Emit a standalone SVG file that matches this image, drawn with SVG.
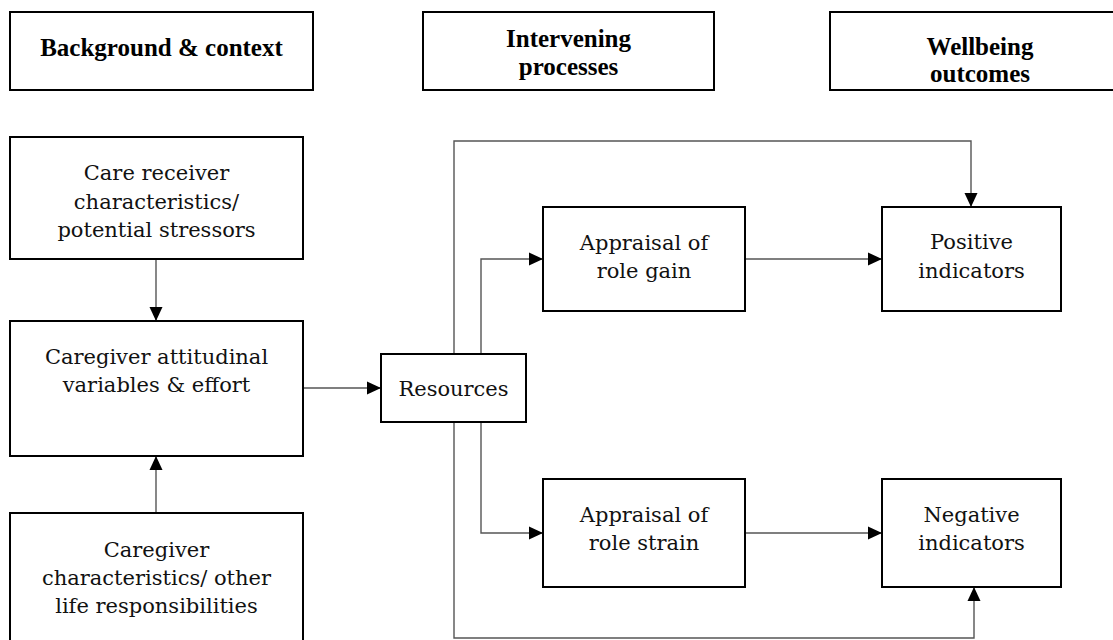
<svg xmlns="http://www.w3.org/2000/svg" width="1113" height="640" viewBox="0 0 1113 640">
<style>
.box{fill:#fff;stroke:#000;stroke-width:2}
.t{font-family:"DejaVu Serif","Liberation Serif",serif;font-size:21px;fill:#111;text-anchor:middle}
.h{font-family:"Liberation Serif","Times New Roman",serif;font-weight:bold;font-size:25px;fill:#000;text-anchor:middle}
.c{fill:none;stroke:#555;stroke-width:1.4}
</style>
<defs>
<marker id="ah" markerUnits="userSpaceOnUse" markerWidth="14" markerHeight="14" viewBox="0 0 14 14" refX="14" refY="7" orient="auto">
<path d="M0,0.5 L14,7 L0,13.5 Z" fill="#000"/>
</marker>
</defs>
<rect width="1113" height="640" fill="#fff"/>
<g id="connectors">
<path class="c" d="M156,259 V321" marker-end="url(#ah)"/>
<path class="c" d="M156,513 V456" marker-end="url(#ah)"/>
<path class="c" d="M303,388 H381" marker-end="url(#ah)"/>
<path class="c" d="M454,354 V141 H971 V207" marker-end="url(#ah)"/>
<path class="c" d="M481,354 V259 H543" marker-end="url(#ah)"/>
<path class="c" d="M745,259 H882" marker-end="url(#ah)"/>
<path class="c" d="M481,422 V533 H543" marker-end="url(#ah)"/>
<path class="c" d="M745,533 H882" marker-end="url(#ah)"/>
<path class="c" d="M454,422 V638 H974 V587" marker-end="url(#ah)"/>
</g>
<g id="hdr-background">
<rect class="box" x="10" y="12" width="303" height="78"/>
<text class="h" x="161.5" y="56">Background &amp; context</text>
</g>
<g id="hdr-intervening">
<rect class="box" x="423" y="12" width="291" height="78"/>
<text class="h" x="568.5" y="47">Intervening</text>
<text class="h" x="568.5" y="75">processes</text>
</g>
<g id="hdr-wellbeing">
<rect class="box" x="830" y="12" width="300" height="78"/>
<text class="h" x="980" y="55">Wellbeing</text>
<text class="h" x="980" y="82">outcomes</text>
</g>
<g id="care-receiver">
<rect class="box" x="10" y="137" width="293" height="122"/>
<text class="t" x="156.5" y="180">Care receiver</text>
<text class="t" x="156.5" y="208.5">characteristics/</text>
<text class="t" x="156.5" y="237">potential stressors</text>
</g>
<g id="caregiver-attitudinal">
<rect class="box" x="10" y="321" width="293" height="135"/>
<text class="t" x="156.5" y="364">Caregiver attitudinal</text>
<text class="t" x="156.5" y="392">variables &amp; effort</text>
</g>
<g id="caregiver-characteristics">
<rect class="box" x="10" y="513" width="293" height="140"/>
<text class="t" x="156.5" y="557">Caregiver</text>
<text class="t" x="156.5" y="585">characteristics/ other</text>
<text class="t" x="156.5" y="613">life responsibilities</text>
</g>
<g id="resources">
<rect class="box" x="381" y="354" width="145" height="68"/>
<text class="t" x="453.5" y="396">Resources</text>
</g>
<g id="appraisal-gain">
<rect class="box" x="543" y="207" width="202" height="104"/>
<text class="t" x="644" y="250">Appraisal of</text>
<text class="t" x="644" y="278">role gain</text>
</g>
<g id="appraisal-strain">
<rect class="box" x="543" y="479" width="202" height="108"/>
<text class="t" x="644" y="522">Appraisal of</text>
<text class="t" x="644" y="550">role strain</text>
</g>
<g id="positive">
<rect class="box" x="882" y="207" width="179" height="104"/>
<text class="t" x="971.5" y="249">Positive</text>
<text class="t" x="971.5" y="278">indicators</text>
</g>
<g id="negative">
<rect class="box" x="882" y="479" width="179" height="108"/>
<text class="t" x="971.5" y="522">Negative</text>
<text class="t" x="971.5" y="550">indicators</text>
</g>
</svg>
